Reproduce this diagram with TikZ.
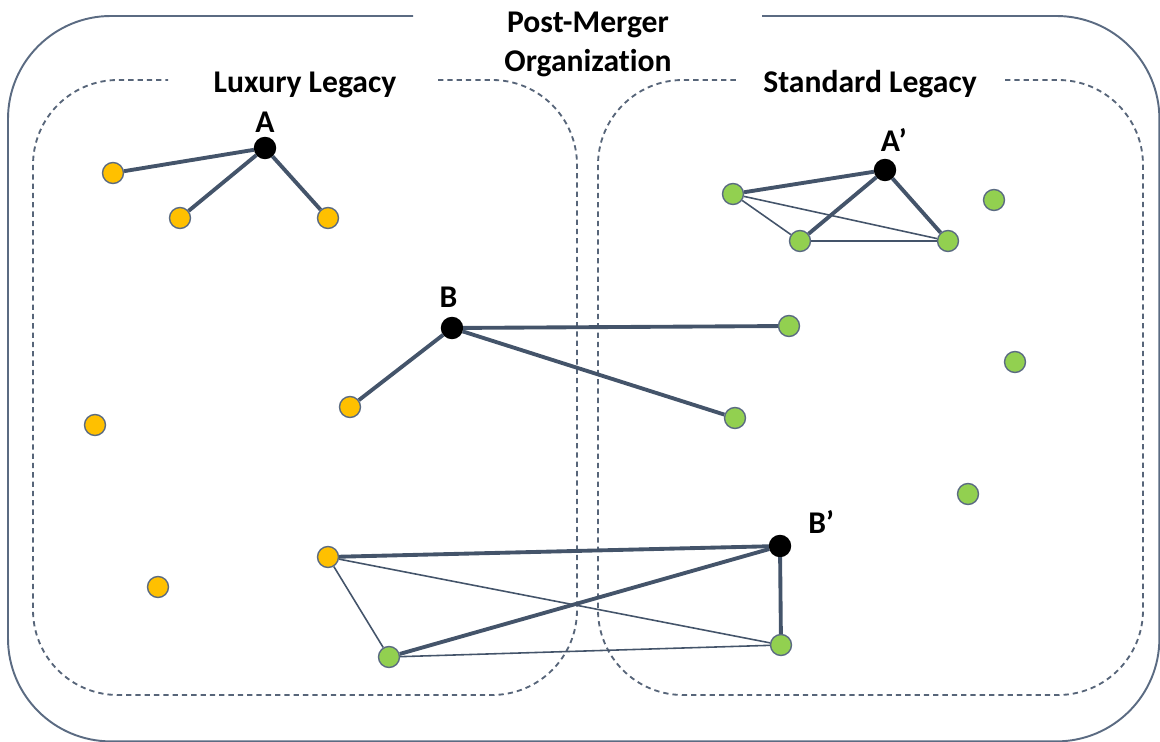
\documentclass[tikz,border=0pt]{standalone}
\usepackage{fontspec}
\setmainfont{Carlito}[Ligatures=NoCommon]
\usetikzlibrary{positioning}
\definecolor{slate}{HTML}{44546A}
\definecolor{rim}{HTML}{5B6B82}
\definecolor{luxyellow}{HTML}{FFC000}
\definecolor{stdgreen}{HTML}{92D050}
\newcommand{\bigbold}{\fontsize{18}{22.7}\selectfont\bfseries}

\begin{document}
\begin{tikzpicture}[x=0.02cm,y=-0.02cm]

	\tikzstyle{person}=[circle,draw=rim,line width=0.8pt,minimum size=0.42cm,inner sep=0pt]
	\tikzstyle{luxnode}=[person,fill=luxyellow]
	\tikzstyle{stdnode}=[person,fill=stdgreen]
	\tikzstyle{hub}=[person,fill=black,draw=black]
	\tikzstyle{tag}=[font=\bigbold,inner sep=0pt]
	\tikzstyle{tie}=[draw=slate,line width=2.2pt]
	\tikzstyle{weak}=[draw=slate,line width=0.9pt]
	\tikzstyle{unit}=[draw=slate!90,line width=1.05pt,dash pattern=on 3pt off 2.3pt,rounded corners=1.7cm]

	\useasboundingbox (0,0) rectangle (1160,742);

	% outer frame and the two legacy units
	\draw [draw=rim,line width=1.1pt,rounded corners=2.06cm]
		(762,16) -- (1159.4,16) -- (1159.4,741.4) -- (8,741.4) -- (8,16) -- (413,16);
	\draw [unit] (438,80) -- (577,80) -- (577,695) -- (33,695) -- (33,80) -- (168,80);
	\draw [unit] (1005,80) -- (1143,80) -- (1143,695) -- (598,695) -- (598,80) -- (736,80);

	\node (title) [tag,align=center,anchor=base] at (588,72) {Post-Merger\\Organization};
	\node (luxury) [tag,anchor=base] at (305,93) {Luxury Legacy};
	\node (standard) [tag,anchor=base] at (870,93) {Standard Legacy};

	% people
	\node [hub] (A) at (265,148) {};
	\node [hub] (B) at (452,328) {};
	\node [hub] (Ap) at (885,170) {};
	\node [hub] (Bp) at (780,546) {};

	\node [luxnode] (l1) at (113,173) {};
	\node [luxnode] (l2) at (180,218) {};
	\node [luxnode] (l3) at (328,218) {};
	\node [luxnode] (l4) at (350,407) {};
	\node [luxnode] (l5) at (95,425) {};
	\node [luxnode] (l6) at (158,587) {};
	\node [luxnode] (l7) at (328,557) {};

	\node [stdnode] (s1) at (733,194) {};
	\node [stdnode] (s2) at (800,241) {};
	\node [stdnode] (s3) at (948,241) {};
	\node [stdnode] (s4) at (994,200) {};
	\node [stdnode] (s5) at (789,326) {};
	\node [stdnode] (s6) at (735,418) {};
	\node [stdnode] (s7) at (1015,362) {};
	\node [stdnode] (s8) at (968,494) {};
	\node [stdnode] (s9) at (389,657) {};
	\node [stdnode] (s10) at (781,645) {};

	\node (labA) [tag,above=2pt of A] {A};
	\node (labB) [tag,above=5pt of B,xshift=-2pt] {B};
	\node (labAp) [tag,above=4pt of Ap,xshift=5pt] {A’};
	\node (labBp) [tag,right=9.5pt of Bp,yshift=13.5pt] {B’};

	\path	(A) edge [tie] (l1) edge [tie] (l2) edge [tie] (l3)
		(B) edge [tie] (s5) edge [tie] (l4) edge [tie] (s6)
		(Ap) edge [tie] (s1) edge [tie] (s2) edge [tie] (s3)
		(s1) edge [weak] (s2) edge [weak] (s3)
		(s2) edge [weak] (s3)
		(Bp) edge [tie] (l7) edge [tie] (s9) edge [tie] (s10)
		(l7) edge [weak] (s9) edge [weak] (s10)
		(s9) edge [weak] (s10);
\end{tikzpicture}
\end{document}
